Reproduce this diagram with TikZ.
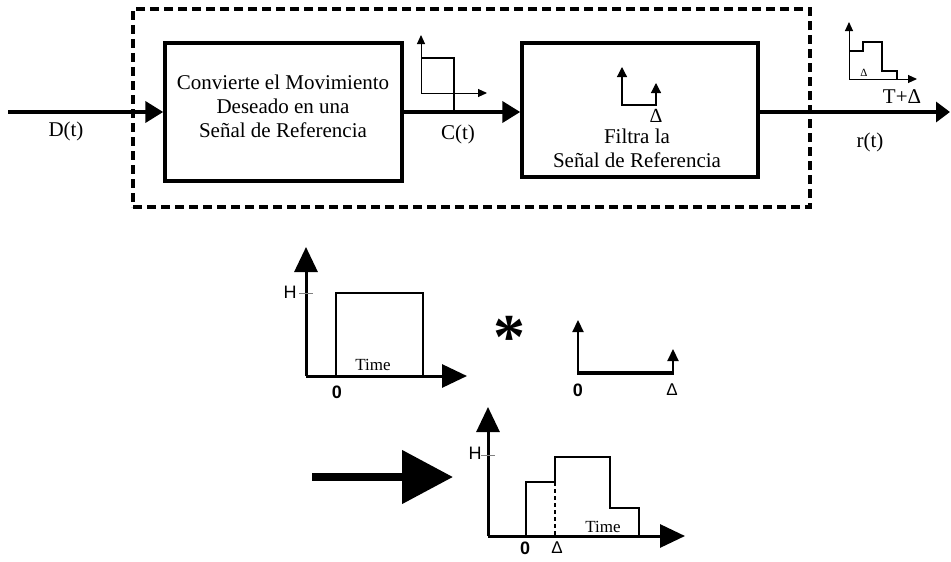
\documentclass[tikz,border=0pt]{standalone}
\usepackage{fontspec}
\setmainfont{Liberation Serif}
\newfontfamily\sansf{Liberation Sans}
\usetikzlibrary{arrows.meta}
\tikzset{
  blockbox/.style={draw, line width=3.5pt, inner sep=0pt, rectangle},
  sysbox/.style={draw, line width=3.5pt, dash pattern=on 9pt off 5pt, inner sep=0pt, rectangle},
  mainline/.style={line width=4pt, -{Triangle[length=18pt,width=21pt]}},
  thinax/.style={line width=1pt, -{Triangle[length=9pt,width=8pt]}},
  bigax/.style={line width=3pt, -{Triangle[length=25pt,width=23pt]}},
  midax/.style={line width=2.2pt, -{Triangle[length=12pt,width=11pt]}},
  sig/.style={line width=1.5pt},
  lbl/.style={font=\fontsize{21}{24}\selectfont, inner sep=0pt},
  small/.style={font=\fontsize{17}{20}\selectfont, inner sep=0pt},
  sanslbl/.style={font=\sansf\fontsize{17}{18}\selectfont, inner sep=0pt},
  boldlbl/.style={font=\sansf\bfseries\fontsize{18}{18}\selectfont, inner sep=0pt},
}
\begin{document}
\begin{tikzpicture}[x=1pt,y=-1pt]
\useasboundingbox (0,0) rectangle (951,562);
% system boundary
\node[sysbox, minimum width=677pt, minimum height=198pt] (sys) at (471.5,108) {};
% blocks
\node[blockbox, minimum width=237pt, minimum height=138pt] (b1) at (283.5,112) {};
\node[lbl, align=center] (t1) at (283,106) {Convierte el Movimiento\\Deseado en una\\Señal de Referencia};
\node[blockbox, minimum width=236pt, minimum height=134pt] (b2) at (640,110) {};
\node[lbl, align=center] (t2) at (637,148) {Filtra la\\Señal de Referencia};
% connectors
\coordinate (din) at (8,112);
\coordinate (rout) at (950,112);
\draw[mainline] (din) -- (b1.west);
\draw[mainline] (b1.east) -- (b1.east -| b2.west);
\draw[line width=4pt, -{Triangle[length=14pt,width=20pt]}] (b1.east -| b2.east) -- (rout);
\node[lbl] (dl) at (66,131) {D(t)};
\node[lbl] (cl) at (458,134) {C(t)};
\node[lbl] (rl) at (870,142) {r(t)};
\node[lbl] (tdl) at (902,97) {T+Δ};
% small plot C(t)
\draw[thinax] (421,93) -- (421,35);
\draw[thinax] (421,93) -- (487,93);
\draw[sig] (421,58) -- (454,58) -- (454,112);
\node[font=\fontsize{6}{6}\selectfont, inner sep=0pt] (tt) at (454,96) {T};
% impulse pair inside block 2
\draw[line width=1.2pt, {Triangle[length=10pt,width=10pt]}-{Triangle[length=10pt,width=10pt]}] (622,67) -- (622,105) -- (656,105) -- (656,83);
\node[font=\fontsize{20}{22}\selectfont, inner sep=0pt] (d2) at (656,116) {Δ};
% small plot r(t)
\draw[thinax] (849,79) -- (849,22);
\draw[thinax] (849,79) -- (917,79);
\draw[sig] (849,51) -- (863,51) -- (863,42) -- (882,42) -- (882,71) -- (897,71) -- (897,79);
\node[font=\fontsize{11}{11}\selectfont, inner sep=0pt] (d3) at (864,73) {Δ};
% bottom-left plot
\draw[bigax] (306,376) -- (306,247);
\draw[bigax] (306,376) -- (467,376);
\draw[gray, line width=1pt] (299,293) -- (313,293);
\node[sanslbl, font=\sansf\fontsize{18}{20}\selectfont] (h1) at (290,292) {H};
\draw[sig] (336,376) -- (336,293) -- (423,293) -- (423,376);
\node[small] (time1) at (373,365) {Time};
\node[boldlbl] (z1) at (337,392) {0};
% convolution
\node[font=\bfseries\fontsize{64}{64}\selectfont, inner sep=0pt, anchor=base] (ast) at (509,358) {*};
% impulse pair
\draw[midax] (578,374) -- (578,320);
\draw[line width=3.5pt] (577,373) -- (674,373);
\draw[midax] (673,374) -- (673,349);
\node[boldlbl] (z2) at (578,390) {0};
\node[sanslbl] (d4) at (672,390) {Δ};
% big arrow
\coordinate (ba1) at (312,477);
\coordinate (ba2) at (453,477);
\draw[line width=8pt, -{Triangle[length=51pt,width=52pt]}] (ba1) -- (ba2);
% bottom result plot
\draw[bigax] (488,536) -- (488,407);
\draw[bigax] (488,536) -- (685,536);
\draw[gray, line width=1pt] (481,455) -- (495,455);
\node[sanslbl, font=\sansf\fontsize{18}{20}\selectfont] (h2) at (475,453) {H};
\draw[sig] (526,536) -- (526,482) -- (555,482) -- (555,457) -- (610,457) -- (610,508) -- (639,508) -- (639,536);
\draw[sig, dash pattern=on 4pt off 3pt] (555,482) -- (555,536);
\node[small] (time2) at (603,527) {Time};
\node[boldlbl] (z3) at (525,548) {0};
\node[sanslbl] (d5) at (557,548) {Δ};
\end{tikzpicture}
\end{document}
